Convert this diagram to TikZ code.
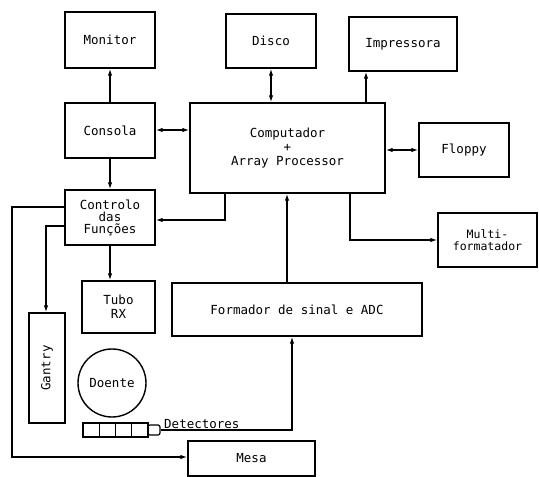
\documentclass[tikz,border=0pt]{standalone}
\usepackage{fontspec}
\setmainfont{DejaVu Sans Mono}
\usetikzlibrary{arrows.meta}
\begin{document}
\begin{tikzpicture}[x=1pt,y=-1pt,
  box/.style={draw,line width=1.4pt,inner sep=0pt,align=center,font=\fontsize{12.5}{14}\selectfont},
  conn/.style={line width=1.3pt},
  arr/.style={conn,-{Latex[length=7pt,width=4.5pt]}},
  darr/.style={conn,{Latex[length=7pt,width=4.5pt]}-{Latex[length=7pt,width=4.5pt]}},
  lbl/.style={font=\fontsize{12.5}{14}\selectfont}]
\useasboundingbox (0,0) rectangle (539,477);
\node[box,minimum width=90pt,minimum height=56pt] (mon) at (110,40) {Monitor};
\node[box,minimum width=90pt,minimum height=54pt] (disco) at (271,41) {Disco};
\node[box,minimum width=108pt,minimum height=54pt] (imp) at (403,44) {Impressora};
\node[box,minimum width=90pt,minimum height=55pt] (cons) at (110,130.5) {Consola};
\node[box,minimum width=195pt,minimum height=90pt] (comp) at (287.5,148) {Computador\\+\\Array Processor};
\node[box,minimum width=90pt,minimum height=54pt] (flop) at (464,150) {Floppy};
\node[box,minimum width=99pt,minimum height=54pt,font=\fontsize{11.5}{12.5}\selectfont] (multi) at (487.5,240) {Multi-\\formatador};
\node[box,minimum width=90pt,minimum height=55pt,font=\fontsize{12.5}{12}\selectfont] (ctrl) at (110,217.5) {Controlo\\das\\Funções};
\node[box,minimum width=73pt,minimum height=52pt] (tubo) at (118.5,307) {Tubo\\RX};
\node[box,minimum width=250pt,minimum height=53pt] (form) at (297,309.5) {Formador de sinal e ADC};
\node[box,minimum width=36pt,minimum height=110pt] (gantry) at (47,368) {};
\node[lbl,rotate=90] at (gantry.center) {Gantry};
\node[draw,line width=1.4pt,circle,minimum size=68pt,inner sep=0pt,lbl] (doente) at (112,383) {Doente};
\node[box,minimum width=127pt,minimum height=35pt] (mesa) at (251.5,458.5) {Mesa};
% detectors
\foreach \i in {0,1,2,3}
  \draw[line width=1.2pt] (83+\i*16.25,423) rectangle ++(16.25,14);
\node[draw,line width=1.2pt,rounded corners=2pt,minimum width=12pt,minimum height=10pt,inner sep=0pt] (det) at (154,430) {};
\node[lbl,anchor=south west,inner sep=1pt] (detl) at (163,430) {Detectores};
% connectors
\draw[arr] (cons) -- (mon);
\draw[arr] (cons) -- (ctrl);
\draw[arr] (ctrl) -- (tubo.north -| ctrl);
\draw[darr] (cons.east |- comp.west) ++(0,-18) coordinate (c1) -- (comp.west |- c1);
\draw[darr] (comp.north -| disco) -- (disco);
\draw[arr] (comp.north -| 366,0) -- (imp.south -| 366,0);
\draw[darr] (comp.east |- flop) -- (flop);
\draw[arr] (comp.south -| 350,0) |- (multi.west);
\draw[arr] (comp.south -| 225,0) |- (ctrl.east |- 0,220);
\draw[arr] (form.north -| 287,0) -- (comp.south -| 287,0);
\draw[arr] (det.east) -| (form.south -| 292,0);
\draw[arr] (ctrl.west |- 0,226) -| (gantry.north -| 46,0);
\draw[arr] (ctrl.west |- 0,207) -| (12,457) -- (mesa.west |- 0,457);
\end{tikzpicture}
\end{document}
